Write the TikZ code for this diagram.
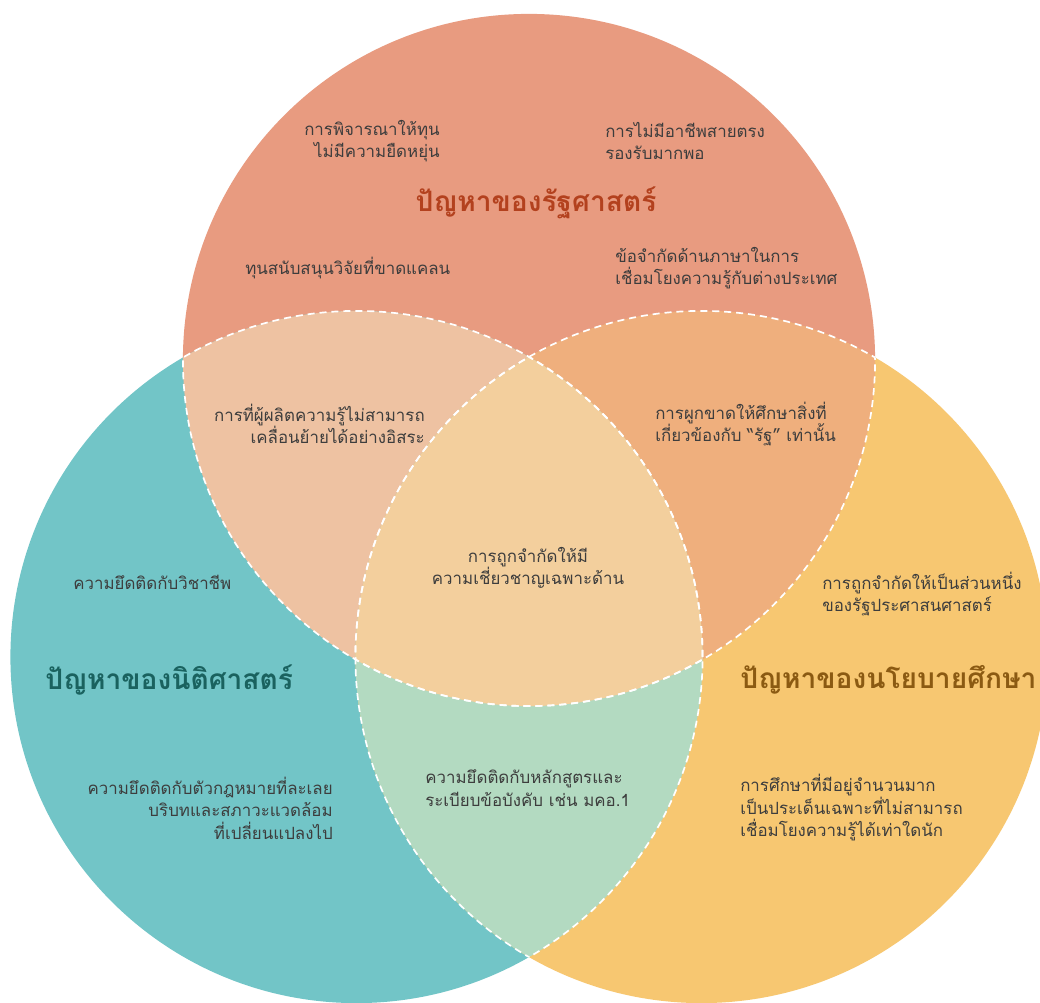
\documentclass[tikz,border=0pt]{standalone}
\usepackage{fontspec}
\newfontfamily\thai[Script=Thai]{Loma}
\definecolor{topfill}{HTML}{E89B80}
\definecolor{leftfill}{HTML}{72C5C7}
\definecolor{rightfill}{HTML}{F7C771}
\definecolor{tlfill}{HTML}{EEC2A2}
\definecolor{trfill}{HTML}{EFAF7D}
\definecolor{lrfill}{HTML}{B3DAC1}
\definecolor{midfill}{HTML}{F3CF9D}
\definecolor{bodytext}{HTML}{3D3D3D}
\definecolor{polred}{HTML}{B3411E}
\definecolor{lawteal}{HTML}{1A625F}
\definecolor{edubrown}{HTML}{8B5A12}
\tikzset{
  body/.style={font=\thai\fontsize{12}{16}\selectfont, text=bodytext, inner sep=0pt},
  ttl/.style={font=\thai\bfseries\fontsize{20}{24}\selectfont, inner sep=0pt},
  seam/.style={draw=white, line width=1.2pt, dash pattern=on 5pt off 3.5pt}
}
\def\rad{8.65cm}
\begin{document}
\begin{tikzpicture}[x=0.025cm, y=-0.025cm]
    \useasboundingbox[fill=white] (0,0) rectangle (1040,1003);
    \coordinate (ctop) at (529,360);
    \coordinate (cleft) at (356.5,657);
    \coordinate (cright) at (701.5,657);

    \fill[topfill] (ctop) circle[radius=\rad];
    \fill[leftfill] (cleft) circle[radius=\rad];
    \fill[rightfill] (cright) circle[radius=\rad];
    \begin{scope}
      \clip (ctop) circle[radius=\rad];
      \fill[tlfill] (cleft) circle[radius=\rad];
      \fill[trfill] (cright) circle[radius=\rad];
    \end{scope}
    \begin{scope}
      \clip (cleft) circle[radius=\rad];
      \fill[lrfill] (cright) circle[radius=\rad];
      \clip (ctop) circle[radius=\rad];
      \fill[midfill] (cright) circle[radius=\rad];
    \end{scope}

    \begin{scope}
      \clip (ctop) circle[radius=\rad];
      \draw[seam] (cleft) circle[radius=\rad];
      \draw[seam] (cright) circle[radius=\rad];
    \end{scope}
    \begin{scope}
      \clip (cleft) circle[radius=\rad];
      \draw[seam] (ctop) circle[radius=\rad];
      \draw[seam] (cright) circle[radius=\rad];
    \end{scope}
    \begin{scope}
      \clip (cright) circle[radius=\rad];
      \draw[seam] (ctop) circle[radius=\rad];
      \draw[seam] (cleft) circle[radius=\rad];
    \end{scope}

    \node[body, anchor=east, align=right] (funding) at (440,141) {การพิจารณาให้ทุน\\ไม่มีความยืดหยุ่น};
    \node[body, anchor=west, align=left] (career) at (605,141) {การไม่มีอาชีพสายตรง\\รองรับมากพอ};
    \node[ttl, text=polred] (polname) at (536,203) {ปัญหาของรัฐศาสตร์};
    \node[body, anchor=west] (grant) at (245,268) {ทุนสนับสนุนวิจัยที่ขาดแคลน};
    \node[body, anchor=west, align=left] (lang) at (615,268) {ข้อจำกัดด้านภาษาในการ\\เชื่อมโยงความรู้กับต่างประเทศ};
    \node[body, anchor=east, align=right] (mobility) at (425,424) {การที่ผู้ผลิตความรู้ไม่สามารถ\\เคลื่อนย้ายได้อย่างอิสระ};
    \node[body, anchor=west, align=left] (monopoly) at (655,424) {การผูกขาดให้ศึกษาสิ่งที่\\เกี่ยวข้องกับ “รัฐ” เท่านั้น};
    \node[body, align=center] (special) at (528,568) {การถูกจำกัดให้มี\\ความเชี่ยวชาญเฉพาะด้าน};
    \node[body, anchor=west] (profession) at (73,582) {ความยึดติดกับวิชาชีพ};
    \node[body, anchor=west, align=left] (pubadmin) at (822,594) {การถูกจำกัดให้เป็นส่วนหนึ่ง\\ของรัฐประศาสนศาสตร์};
    \node[ttl, text=lawteal, anchor=west] (lawname) at (45,680) {ปัญหาของนิติศาสตร์};
    \node[ttl, text=edubrown, anchor=west] (eduname) at (740,680) {ปัญหาของนโยบายศึกษา};
    \node[body, anchor=east, align=right] (statute) at (333,808) {ความยึดติดกับตัวกฎหมายที่ละเลย\\บริบทและสภาวะแวดล้อม\\ที่เปลี่ยนแปลงไป};
    \node[body, anchor=west, align=left] (curriculum) at (425,788) {ความยึดติดกับหลักสูตรและ\\ระเบียบข้อบังคับ เช่น มคอ.1};
    \node[body, anchor=west, align=left] (studies) at (740,808) {การศึกษาที่มีอยู่จำนวนมาก\\เป็นประเด็นเฉพาะที่ไม่สามารถ\\เชื่อมโยงความรู้ได้เท่าใดนัก};
\end{tikzpicture}
\end{document}
